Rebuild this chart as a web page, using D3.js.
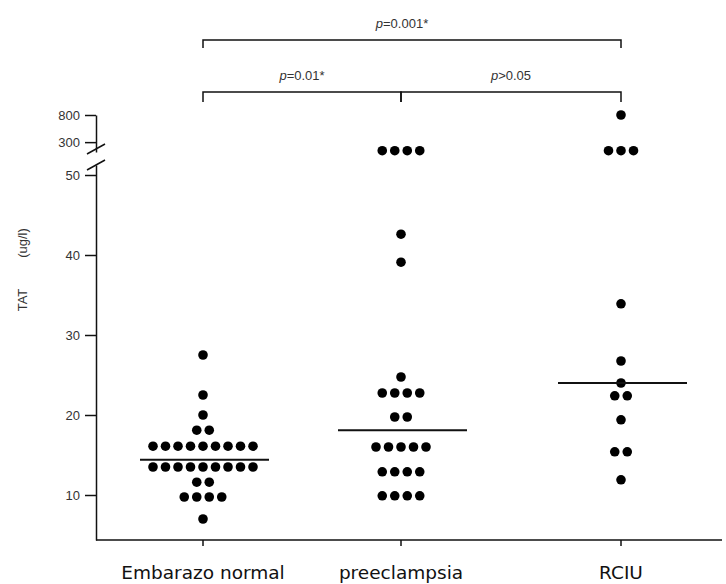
<!DOCTYPE html>
<html>
<head>
<meta charset="UTF-8" />
<title>TAT por grupo</title>
<script src="https://cdn.jsdelivr.net/npm/d3@7"></script>
<style>
    body { margin: 0; background: #fff; }
    svg { display: block; }
    .tick text { font-family: "Liberation Sans", Arial, sans-serif; font-size: 13px; fill: #333; }
    .cat { font-family: "DejaVu Sans", sans-serif; font-size: 18.5px; fill: #111; }
    .pval { font-family: "Liberation Sans", Arial, sans-serif; font-size: 13px; fill: #333; }
</style>
</head>
<body>
<div id="chart"></div>
<script>
    // groups on the x axis
    const categories = ['Embarazo normal', 'preeclampsia', 'RCIU'];

    // TAT values (ug/l) per group; 220 / 800 sit above the axis break
    const normalValues = [27.5, 22.5, 20, 18.1, 18.1,
        16.1, 16.1, 16.1, 16.1, 16.1, 16.1, 16.1, 16.1, 16.1,
        13.5, 13.5, 13.5, 13.5, 13.5, 13.5, 13.5, 13.5, 13.5,
        11.6, 11.6, 9.75, 9.75, 9.75, 9.75, 7];
    const preeclampsiaValues = [220, 220, 220, 220, 42.6, 39.1, 24.75,
        22.75, 22.75, 22.75, 22.75, 19.75, 19.75,
        16, 16, 16, 16, 16, 12.9, 12.9, 12.9, 12.9, 9.9, 9.9, 9.9, 9.9];
    const rciuValues = [800, 220, 220, 220, 33.9, 26.75, 24, 22.4, 22.4, 19.4, 15.4, 15.4, 11.9];

    // horizontal median lines
    const medians = [14.4, 18.1, 24];

    // axis ticks
    const lowTicks = [10, 20, 30, 40, 50];
    const highTicks = [300, 800];

    // significance brackets: [from, to, label, level]
    const comparisons = [
        ['Embarazo normal', 'RCIU', 'p=0.001*', 0],
        ['Embarazo normal', 'preeclampsia', 'p=0.01*', 1],
        ['preeclampsia', 'RCIU', 'p>0.05', 1]
    ];

    const w = 726;
    const h = 584;
    const axisX = 96;
    const breakValue = 60;

    const svg = d3.select('#chart')
        .append('svg')
        .attr('width', w)
        .attr('height', h);

    const x = d3.scaleOrdinal()
        .domain(categories)
        .range([203, 401, 621]);

    const yLow = d3.scaleLinear()
        .domain([4.375, 51.25])
        .range([540, 165]);

    const yHigh = d3.scaleLog()
        .domain([210, 800])
        .range([152, 115]);

    const y = v => v > breakValue ? yHigh(v) : yLow(v);

    // lower y axis
    svg.append('g')
        .attr('transform', 'translate(' + axisX + ',0)')
        .call(d3.axisLeft(yLow).tickValues(lowTicks).tickSize(11).tickSizeOuter(0).tickPadding(5))
        .call(g => g.selectAll('path, line').attr('stroke', '#111').attr('stroke-width', 1.5));

    // upper y axis (above the break)
    svg.append('g')
        .attr('transform', 'translate(' + axisX + ',0)')
        .call(d3.axisLeft(yHigh).tickValues(highTicks).tickFormat(d3.format('d')).tickSize(11).tickSizeOuter(0).tickPadding(5))
        .call(g => g.selectAll('path, line').attr('stroke', '#111').attr('stroke-width', 1.5));

    // break marks
    svg.selectAll('line.brk')
        .data([yHigh.range()[0] - 3, yLow.range()[1]])
        .enter()
        .append('line')
        .attr('class', 'brk')
        .attr('x1', axisX - 9)
        .attr('y1', d => d + 5)
        .attr('x2', axisX + 9)
        .attr('y2', d => d - 5)
        .attr('stroke', '#111')
        .attr('stroke-width', 1.5);

    // x axis
    const xg = svg.append('g')
        .attr('transform', 'translate(0,' + yLow.range()[0] + ')');
    xg.append('line')
        .attr('x1', axisX)
        .attr('x2', w - 4)
        .attr('stroke', '#111')
        .attr('stroke-width', 1.5);
    xg.selectAll('line.xt')
        .data(categories)
        .enter()
        .append('line')
        .attr('class', 'xt')
        .attr('x1', d => x(d))
        .attr('x2', d => x(d))
        .attr('y1', 0)
        .attr('y2', 6)
        .attr('stroke', '#111')
        .attr('stroke-width', 1.5);
    xg.selectAll('text')
        .data(categories)
        .enter()
        .append('text')
        .attr('class', 'cat')
        .attr('x', d => x(d))
        .attr('y', 39)
        .attr('text-anchor', 'middle')
        .text(d => d);

    // y axis title
    svg.append('text')
        .attr('class', 'pval')
        .attr('transform', 'translate(27,300) rotate(-90)')
        .attr('text-anchor', 'middle')
        .text('TAT');
    svg.append('text')
        .attr('class', 'pval')
        .attr('font-size', '11px')
        .attr('transform', 'translate(27,243) rotate(-90)')
        .attr('text-anchor', 'middle')
        .text('(ug/l)');

    // dot strips: equal values spread side by side
    const step = 12.5;
    const groups = [normalValues, preeclampsiaValues, rciuValues];
    const dots = [];
    groups.forEach((vals, gi) => {
        const counts = d3.rollup(vals, v => v.length, v => v);
        const seen = new Map();
        vals.forEach(v => {
            const k = seen.get(v) || 0;
            seen.set(v, k + 1);
            dots.push({ cat: categories[gi], value: v, offset: (k - (counts.get(v) - 1) / 2) * step });
        });
    });

    svg.selectAll('circle')
        .data(dots)
        .enter()
        .append('circle')
        .attr('cx', d => x(d.cat) + d.offset)
        .attr('cy', d => y(d.value))
        .attr('r', 4.8)
        .attr('fill', '#000');

    // median lines
    svg.selectAll('line.med')
        .data(medians)
        .enter()
        .append('line')
        .attr('class', 'med')
        .attr('x1', (d, i) => x(categories[i]) - 63)
        .attr('x2', (d, i) => x(categories[i]) + 66)
        .attr('y1', d => yLow(d))
        .attr('y2', d => yLow(d))
        .attr('stroke', '#111')
        .attr('stroke-width', 2);

    // brackets
    const levelY = [40, 92];
    const bracket = svg.selectAll('g.br')
        .data(comparisons)
        .enter()
        .append('g')
        .attr('class', 'br');
    bracket.append('path')
        .attr('d', d => {
            const x1 = x(d[0]), x2 = x(d[1]), yy = levelY[d[3]];
            const drop = d[3] === 0 ? 8 : 10;
            return 'M' + x1 + ',' + (yy + drop) + 'V' + yy + 'H' + x2 + 'V' + (yy + drop);
        })
        .attr('fill', 'none')
        .attr('stroke', '#111')
        .attr('stroke-width', 1.5);
    bracket.append('text')
        .attr('class', 'pval')
        .attr('x', d => (x(d[0]) + x(d[1])) / 2 + (d[3] === 0 ? -10 : 0))
        .attr('y', d => levelY[d[3]] - 12)
        .attr('text-anchor', 'middle')
        .html(d => '<tspan font-style="italic">' + d[2][0] + '</tspan>' + d[2].slice(1));
</script>
</body>
</html>
